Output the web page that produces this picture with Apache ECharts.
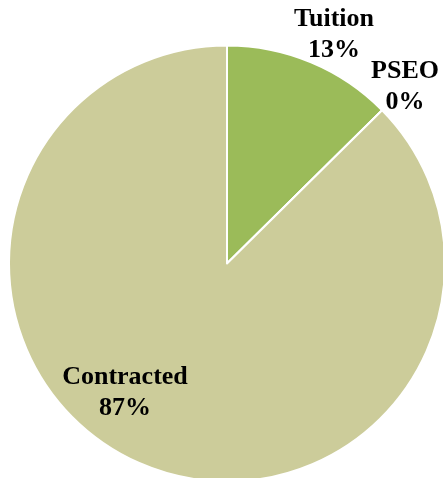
<!DOCTYPE html>
<html>
<head>
<meta charset="utf-8">
<script src="https://cdn.jsdelivr.net/npm/echarts@6/dist/echarts.min.js"></script>
<style>
  html, body { margin: 0; padding: 0; background: #fff; }
  #chart { width: 443px; height: 478px; }
</style>
</head>
<body>
<div id="chart"></div>
<script>
// Funding sources, share of total
const categories = ['Tuition', 'PSEO', 'Contracted'];
const values = [12.6, 0, 87.4];
const colors = ['#9BBB59', '#CCCC9A', '#CCCC9A'];

// Label anchor points (pixel centres of each two-line label)
const labelSpots = [[334, 35], [405, 87], [125, 393]];

const chart = echarts.init(document.getElementById('chart'));
chart.setOption({
  animation: false,
  series: [{
    type: 'pie',
    center: [227, 263.5],
    radius: 218,
    startAngle: 90,
    clockwise: true,
    percentPrecision: 0,
    avoidLabelOverlap: false,
    data: categories.map((name, i) => ({
      name: name,
      value: values[i],
      itemStyle: { color: colors[i] }
    })),
    itemStyle: { borderColor: '#ffffff', borderWidth: 2 },
    label: {
      show: true,
      position: 'outside',
      formatter: '{b}\n{d}%',
      fontFamily: 'Liberation Serif',
      fontWeight: 'bold',
      fontSize: 26,
      lineHeight: 31,
      color: '#000',
      align: 'center'
    },
    labelLine: { show: false },
    labelLayout: function (params) {
      const p = labelSpots[params.dataIndex];
      return { x: p[0], y: p[1], align: 'center', verticalAlign: 'middle' };
    }
  }]
});
</script>
</body>
</html>
